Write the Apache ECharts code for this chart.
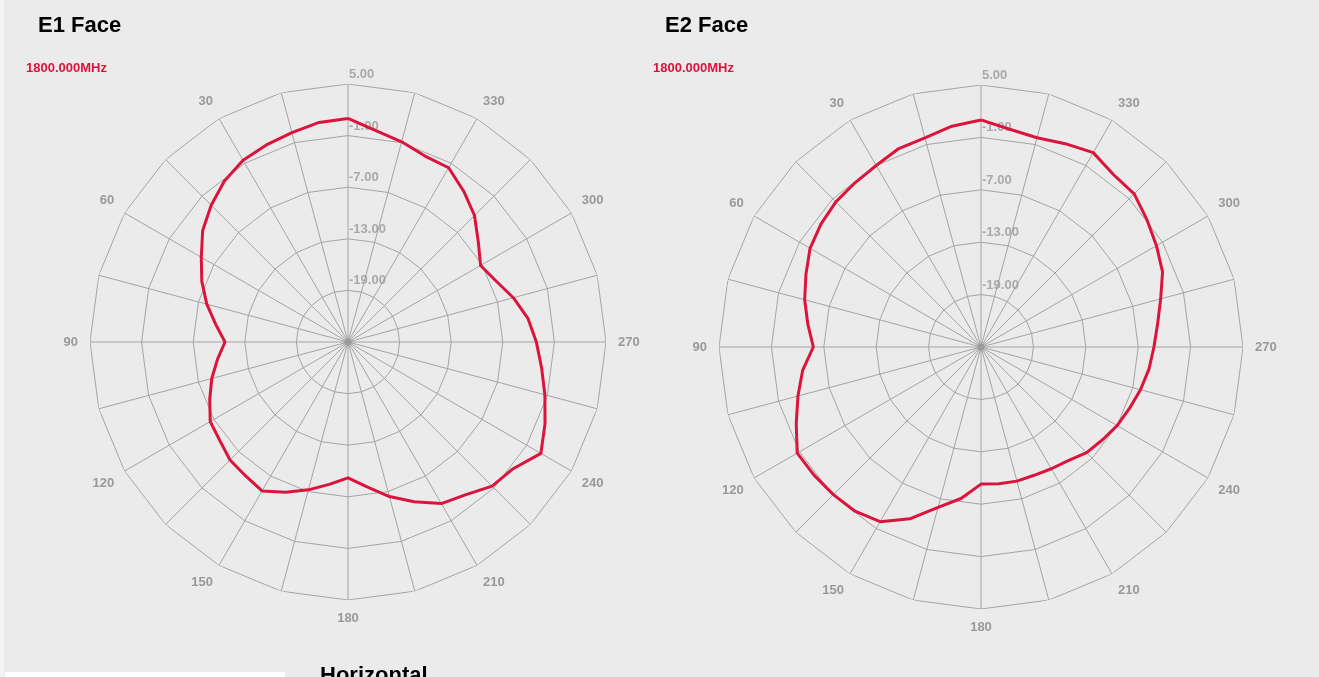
<!DOCTYPE html>
<html>
<head>
<meta charset="utf-8">
<title>E1 / E2 Face - Horizontal</title>
<script src="https://cdn.jsdelivr.net/npm/echarts@6/dist/echarts.min.js"></script>
<style>
  html, body { margin: 0; padding: 0; background: #ebebeb; }
  #chart { width: 1319px; height: 677px; }
</style>
</head>
<body>
<div id="chart"></div>
<script>
// angles in degrees, 0 at top, counter-clockwise
const angles = [
  0, 7.5, 15, 22.5, 30, 37.5, 45, 52.5, 60, 67.5, 75, 82.5,
  90, 97.5, 105, 112.5, 120, 127.5, 135, 142.5, 150, 157.5, 165, 172.5,
  180, 187.5, 195, 202.5, 210, 217.5, 225, 232.5, 240, 247.5, 255, 262.5,
  270, 277.5, 285, 292.5, 300, 307.5, 315, 322.5, 330, 337.5, 345, 352.5, 360
];

// gain in dB at 1800 MHz
const e1Gain = [
  1.0, 0.75, 0.2, -0.2, -0.6, -1.4, -2.5, -3.7, -5.3, -6.6, -8.0, -9.5,
  -10.7, -9.7, -8.6, -7.6, -6.5, -6.2, -5.6, -5.4, -5.0, -6.1, -7.2, -8.3,
  -9.2, -8.0, -6.4, -4.9, -3.3, -2.6, -1.3, -0.8, 0.9, -0.2, -1.3, -2.3,
  -3.1, -3.9, -5.1, -6.4, -7.2, -5.9, -4.2, -2.9, -1.6, -1.6, -0.9, -0.2, 1.0
];
const e2Gain = [
  1.0, 0.5, -0.2, -0.4, -1.0, -1.3, -1.5, -1.9, -2.4, -3.3, -4.1, -5.0,
  -5.8, -4.4, -3.3, -2.1, -0.7, -0.9, -1.1, -1.3, -1.9, -3.7, -6.0, -7.5,
  -9.3, -9.2, -9.1, -9.1, -8.9, -8.6, -7.9, -7.5, -7.0, -6.6, -6.1, -5.6,
  -5.2, -4.6, -3.7, -2.5, -1.8, -1.05, -0.2, -0.1, 0.7, 0.2, -0.2, 0.15, 1.0
];

const radiusMin = -25;
const radiusMax = 5;
const ringValues = [-19, -13, -7, -1, 5];
const ringLabels = ['-19.00', '-13.00', '-7.00', '-1.00', '5.00'];
const spokeAngles = [0, 15, 30, 45, 60, 75, 90, 105, 120, 135, 150, 165,
  180, 195, 210, 225, 240, 255, 270, 285, 300, 315, 330, 345, 360];
const angleLabels = ['30', '60', '90', '120', '150', '180', '210', '240', '270', '300', '330'];

const charts = [
  { title: 'E1 Face', freq: '1800.000MHz', data: e1Gain, center: [348, 342], radius: 258, titleX: 38, freqX: 26 },
  { title: 'E2 Face', freq: '1800.000MHz', data: e2Gain, center: [981, 347], radius: 262, titleX: 665, freqX: 653 }
];

const gridColor = '#a4a4a4';
const labelColor = '#999999';
const lineColor = '#dc143c';
const font = 'Liberation Sans, Arial, sans-serif';

const chart = echarts.init(document.getElementById('chart'));

const polar = [];
const angleAxis = [];
const radiusAxis = [];
const series = [];
const graphic = [];

charts.forEach((c, idx) => {
  polar.push({ center: c.center, radius: c.radius });

  angleAxis.push({
    polarIndex: idx,
    type: 'value',
    min: 0,
    max: 360,
    interval: 15,
    startAngle: 90,
    clockwise: false,
    axisLine: { show: false },
    axisTick: { show: false },
    splitLine: { show: true, lineStyle: { color: gridColor, width: 1 } },
    axisLabel: {
      margin: 12,
      color: labelColor,
      fontSize: 13,
      fontWeight: 'bold',
      fontFamily: font,
      formatter: v => (angleLabels.indexOf(String(v)) >= 0 ? String(v) : '')
    }
  });

  radiusAxis.push({
    polarIndex: idx,
    type: 'value',
    min: radiusMin,
    max: radiusMax,
    axisLine: { show: false },
    axisTick: { show: false },
    axisLabel: { show: false },
    splitLine: { show: false }
  });

  // polygon rings
  ringValues.forEach(r => {
    series.push({
      type: 'line',
      coordinateSystem: 'polar',
      polarIndex: idx,
      data: spokeAngles.map(a => [r, a]),
      symbol: 'none',
      silent: true,
      animation: false,
      lineStyle: { color: gridColor, width: 1 },
      z: 1
    });
  });

  // ring labels
  series.push({
    type: 'scatter',
    coordinateSystem: 'polar',
    polarIndex: idx,
    data: ringValues.map((r, i) => ({ value: [r, 0], name: ringLabels[i] })),
    symbolSize: 0,
    silent: true,
    animation: false,
    label: {
      show: true,
      position: [1, -16],
      formatter: p => p.name,
      color: labelColor,
      fontSize: 13,
      fontWeight: 'bold',
      fontFamily: font
    },
    z: 3
  });

  // centre marker
  series.push({
    type: 'scatter',
    coordinateSystem: 'polar',
    polarIndex: idx,
    data: [[radiusMin, 0]],
    symbol: 'diamond',
    symbolSize: 9,
    itemStyle: { color: '#999999' },
    silent: true,
    animation: false,
    z: 2
  });

  // pattern
  series.push({
    type: 'line',
    name: c.title,
    coordinateSystem: 'polar',
    polarIndex: idx,
    data: angles.map((a, i) => [c.data[i], a]),
    symbol: 'none',
    smooth: false,
    animation: false,
    lineStyle: { color: lineColor, width: 3 },
    z: 4
  });

  graphic.push({
    type: 'text', left: c.titleX, top: 15,
    style: { text: c.title, font: 'bold 22px ' + font, fill: '#000' }
  });
  graphic.push({
    type: 'text', left: c.freqX, top: 62,
    style: { text: c.freq, font: 'bold 13px ' + font, fill: lineColor }
  });
});

graphic.push({
  type: 'text', left: 320, top: 665,
  style: { text: 'Horizontal', font: 'bold 22px ' + font, fill: '#000' }
});
graphic.push({ type: 'rect', left: 5, top: 672, shape: { width: 280, height: 5 }, style: { fill: '#ffffff' } });
graphic.push({ type: 'rect', left: 0, top: 0, shape: { width: 4, height: 677 }, style: { fill: '#f4f4f4' } });

chart.setOption({
  backgroundColor: '#ebebeb',
  animation: false,
  polar,
  angleAxis,
  radiusAxis,
  series,
  graphic
});
</script>
</body>
</html>
